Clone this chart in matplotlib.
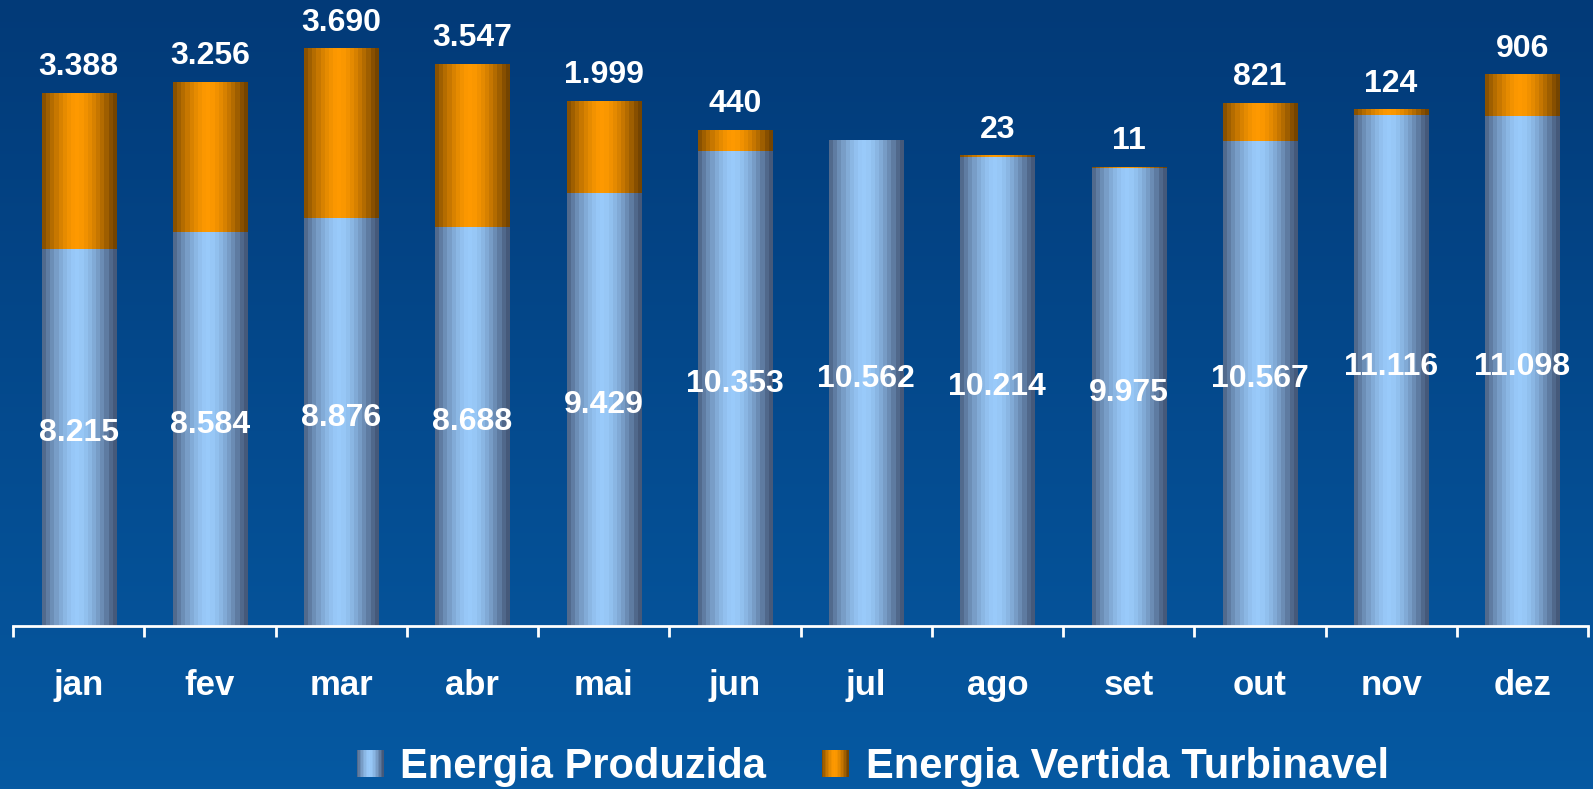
import numpy as np
import matplotlib
matplotlib.use("Agg")
import matplotlib.pyplot as plt

months = ["jan", "fev", "mar", "abr", "mai", "jun", "jul", "ago", "set", "out", "nov", "dez"]
produzida = [8215, 8584, 8876, 8688, 9429, 10353, 10562, 10214, 9975, 10567, 11116, 11098]
vertida = [3388, 3256, 3690, 3547, 1999, 440, 0, 23, 11, 821, 124, 906]

plt.rcParams["font.family"] = ["Liberation Sans", "DejaVu Sans"]
plt.rcParams["font.weight"] = "bold"


def fmt(v):
    return f"{v:,}".replace(",", ".")


def gradient(dark, light, n=18):
    # dark at the edges, light just left of the middle, banded like the original
    t = (np.arange(n) + 0.5) / n
    f = np.clip(1 - (np.abs(t - 0.47) / 0.49) ** 1.6, 0, 1)
    dark = np.array(matplotlib.colors.to_rgb(dark))
    light = np.array(matplotlib.colors.to_rgb(light))
    cols = dark[None, :] + (light - dark)[None, :] * f[:, None]
    return cols[None, :, :]


blue_grad = gradient("#45597a", "#9acbfb")
orange_grad = gradient("#744400", "#ff9a00")

W, H = 1593, 789
fig = plt.figure(figsize=(W / 100, H / 100), dpi=100)

# background: vertical blue gradient
bg = fig.add_axes([0, 0, 1, 1], zorder=-1)
vg = np.linspace(0, 1, 256)[:, None, None]
top = np.array(matplotlib.colors.to_rgb("#023a78"))
bot = np.array(matplotlib.colors.to_rgb("#0659a2"))
bg.imshow(top + (bot - top) * vg, aspect="auto", extent=[0, 1, 0, 1], origin="upper")
bg.axis("off")

ax = fig.add_axes([13 / W, 1 - 626 / H, 1575 / W, 626 / H])
ax.patch.set_alpha(0)

x = np.arange(len(months))
b1 = ax.bar(x, produzida, width=0.565, color="none", zorder=2)
b2 = ax.bar(x, vertida, width=0.565, bottom=produzida, color="none", zorder=2)

for bars, grad in ((b1, blue_grad), (b2, orange_grad)):
    for p in bars:
        x0, y0 = p.get_xy()
        w, h = p.get_width(), p.get_height()
        if h <= 0:
            continue
        ax.imshow(grad, extent=[x0, x0 + w, y0, y0 + h], aspect="auto",
                  interpolation="nearest", zorder=2)

# labels
for i in range(len(months)):
    ax.annotate(fmt(produzida[i]), (x[i], produzida[i] / 2), xytext=(0, 3),
                textcoords="offset points", ha="center", va="center",
                color="white", fontsize=23, fontweight="bold", zorder=3)
    if vertida[i] > 0:
        ax.annotate(fmt(vertida[i]), (x[i], produzida[i] + vertida[i]),
                    xytext=(0, 8), textcoords="offset points",
                    ha="center", va="bottom", color="white",
                    fontsize=23, fontweight="bold", zorder=3)

ax.set_xlim(-0.5, len(months) - 0.5)
ax.set_ylim(0, 13630)

for s in ["top", "right", "left"]:
    ax.spines[s].set_visible(False)
ax.spines["bottom"].set_color("white")
ax.spines["bottom"].set_linewidth(2)
ax.set_yticks([])
ax.set_xticks(x)
ax.set_xticklabels(months, color="white", fontsize=25, fontweight="bold")
ax.tick_params(axis="x", which="major", length=0, pad=31)
ax.set_xticks(np.arange(-0.5, len(months)), minor=True)
ax.tick_params(axis="x", which="minor", length=8, width=2, color="white", direction="out")

# legend drawn by hand so the swatches keep the gradient
items = [(357, blue_grad, "Energia Produzida", 400),
         (822, orange_grad, "Energia Vertida Turbinavel", 866)]
for mx, grad, label, tx in items:
    m = fig.add_axes([mx / W, 1 - 777 / H, 27 / W, 27 / H])
    m.imshow(grad, aspect="auto", interpolation="nearest")
    m.axis("off")
    fig.text(tx / W, 1 - 778 / H, label, color="white", fontsize=30,
             fontweight="bold", va="baseline", ha="left")

fig.savefig("out.png", dpi=100)
